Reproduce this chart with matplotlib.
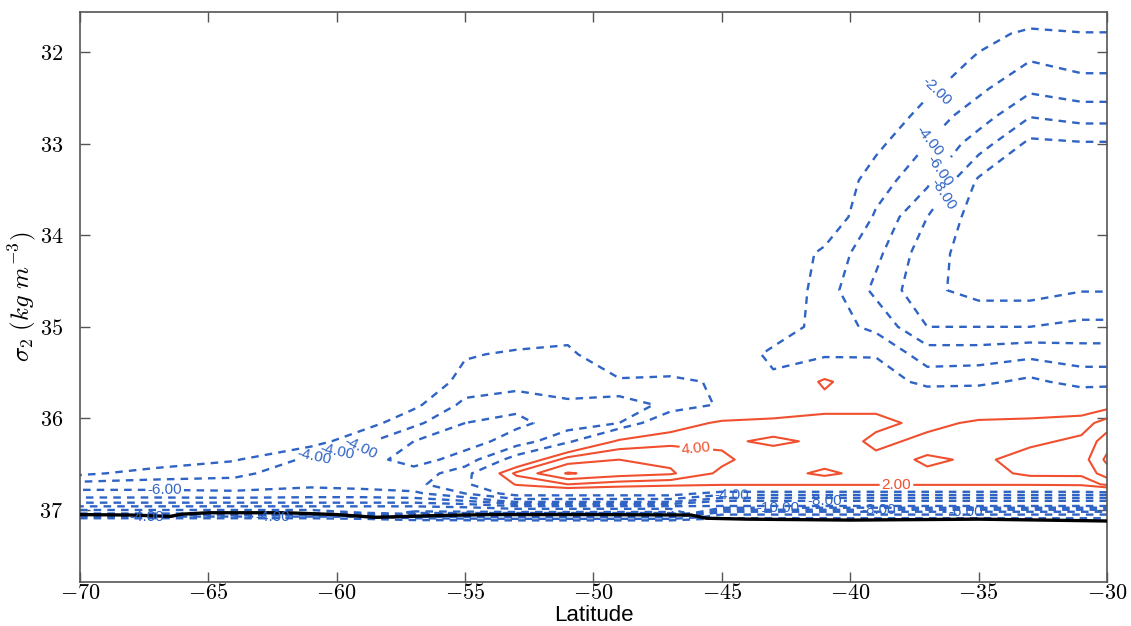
import numpy as np
import matplotlib
matplotlib.use("Agg")
import matplotlib.pyplot as plt
from matplotlib.ticker import FuncFormatter

plt.rcParams['mathtext.fontset'] = 'cm'
plt.rcParams['font.family'] = ['Liberation Sans', 'DejaVu Sans']

# ---------------- data ----------------
lat = [-70, -67, -64, -61, -59, -57, -55, -53, -51, -49, -47, -45, -43, -41, -39, -37, -35, -33, -31, -30]
sigma2 = [31.6, 31.8, 32.1, 32.4, 32.7, 33.0, 33.4, 33.8, 34.2, 34.6, 35.0, 35.3, 35.6, 35.85,
          36.05, 36.25, 36.45, 36.6, 36.72, 36.82, 36.9, 36.97, 37.03, 37.08, 37.13, 37.2]

# transport field, one list per latitude column (top -> bottom in sigma2)
col_m70 = [0]*17 + [-1.5, -4.8, -6.8, -9, -12.5, -11.5, -2.5, 0, 0]
col_m67 = [0]*16 + [-0.5, -3, -4.8, -6.8, -9, -12.5, -11.5, -2.5, 0, 0]
col_m64 = [0]*16 + [-1.8, -3.6, -4.6, -6.6, -9, -12.5, -11.5, -2.5, 0, 0]
col_m61 = [0]*15 + [-1, -4.5, -5, -5.5, -7, -9, -12.5, -11.5, -2.5, 0, 0]
col_m59 = [0]*14 + [-1, -3.5, -5, -4.5, -5, -7, -9, -12.5, -12, -3, 0, 0]
col_m57 = [0]*13 + [-1.5, -3.5, -6, -7, -5, -4.5, -6.5, -9, -12.5, -14.5, -5, 0, 0]
col_m55 = [0]*11 + [-1.8, -2.8, -4.5, -6, -7, -5, -3, -2.5, -4, -8, -12, -14.5, -5.5, 0, 0]
col_m53 = [0]*10 + [-0.5, -2.3, -3, -5.5, -6.5, -5, -1, 4.5, 2.2, -1, -5, -11, -14.5, -6, 0, 0]
col_m51 = [0]*10 + [-1, -2.5, -2.5, -4.5, -5, -2.5, 5, 8.2, 4, -1, -5, -11, -14.5, -6, 0, 0]
col_m49 = [0]*12 + [-2.3, -5, -4, 2.5, 6, 7, 3, -1, -5, -11, -14.5, -6, 0, 0]
col_m47 = [0]*12 + [-2.5, -3.5, 0.5, 3.5, 5.5, 6.3, 2.5, -1, -5, -11, -14.5, -6, 0, 0]
col_m45 = [0]*12 + [-1.7, -1.7, 2.5, 3.5, 4.5, 3.5, 2.3, -3, -8, -10.5, -5, -2.5, 0, 0]
col_m43 = [0]*10 + [-0.5, -2.6, -1.5, 0.5, 2.5, 4.5, 2.5, 3, 2.3, -3, -8, -10.5, -5, -2.5, 0, 0]
col_m41 = [0]*8 + [-2.5, -3, -3, -2.5, 2.5, 1, 3, 3.5, 3, 4.5, 2.3, -3, -8, -10.5, -5, -2.5, 0, 0]
col_m39 = [0]*5 + [-1.5, -3, -4.3, -5.5, -6.5, -4.5, -2.2, -0.5, 1.5, 2.5, 1.5, 2.5, 3, 2.3,
                   -3, -8, -10.5, -5, -2.5, 0, 0]
col_m37 = [0]*3 + [-1.5, -3, -4, -5.5, -8, -9.2, -9.5, -8, -5, -2.8, 1, 1.5, 2.5, 4.5, 3.5, 2.3,
                   -3, -8, -10.5, -5, -2.5, 0, 0]
col_m35 = [0, -1, -2.5, -3.6, -5, -7, -10.3, -11, -11, -10.8, -8, -5, -2.5, 0.5, 2.3, 3, 3.5, 3, 2.3,
           -3, -8, -10.5, -5, -2.5, 0, 0]
col_m33 = [-0.5, -2.6, -4, -5.6, -7.9, -10.5, -11, -11.2, -11, -10.8, -8, -4.5, -1.5, 0.5, 2.5, 3.5,
           5, 4.5, 2.3, -3, -8, -10.5, -5, -2.5, 0, 0]
col_m31 = [-0.8, -2.1, -3.3, -4.9, -7.2, -10.2, -11, -11.2, -11, -10.1, -7.5, -5, -2.8, 0.5, 3, 4.5,
           5, 4.5, 2.5, -3, -8, -10.5, -5, -2.5, 0, 0]
col_m30 = [-0.8, -2.1, -3.3, -4.9, -7.2, -10.2, -11, -11.2, -11, -10.1, -7.5, -5, -2.8, 1, 5, 7,
           8.5, 7, 4.5, -3, -8, -10.5, -5, -2.5, 0, 0]

neg_levels = [-16, -14, -12, -10, -8, -6, -4, -2]
pos_levels = [2, 4, 6, 8]

# bottom density (thick black line)
bottom_lat = [-70, -68, -66.5, -66, -65, -62, -60, -58.5, -56, -54, -50, -46.2, -45.6, -44, -40, -35, -30]
bottom_sig = [37.05, 37.055, 37.07, 37.045, 37.03, 37.03, 37.05, 37.08, 37.06, 37.05, 37.05, 37.055,
              37.09, 37.10, 37.11, 37.10, 37.12]

neg_label_pos = [(-67.4, 37.08), (-66.7, 36.76), (-62.5, 37.07), (-60.9, 36.40), (-60.0, 36.33),
                 (-59.1, 36.27), (-44.6, 36.85), (-41.0, 36.89), (-42.8, 36.98), (-38.9, 37.0),
                 (-35.5, 37.02), (-36.7, 32.4), (-36.8, 33.0), (-36.3, 33.34), (-36.1, 33.6)]
pos_label_pos = [(-46.0, 36.34), (-38.2, 36.62)]

# ---------------- figure ----------------
cols = [col_m70, col_m67, col_m64, col_m61, col_m59, col_m57, col_m55, col_m53, col_m51, col_m49,
        col_m47, col_m45, col_m43, col_m41, col_m39, col_m37, col_m35, col_m33, col_m31, col_m30]
Z = np.array(cols, dtype=float).T
X, Y = np.meshgrid(lat, sigma2)

blue = '#2f63c4'
red = '#f0502f'

fig = plt.figure(figsize=(11.31, 6.26), dpi=100)
ax = fig.add_axes([0.0707, 0.0703, 0.9081, 0.9105])

cn = ax.contour(X, Y, Z, levels=neg_levels, colors=blue, linewidths=1.7,
                linestyles=[(0, (3.2, 2.6))])
cp = ax.contour(X, Y, Z, levels=pos_levels, colors=red, linewidths=1.5, linestyles='solid')
ax.plot(bottom_lat, bottom_sig, color='black', lw=2.4, zorder=3)

ax.clabel(cn, fmt='%.2f', fontsize=11, manual=neg_label_pos, inline=True, inline_spacing=2)
ax.clabel(cp, fmt='%.2f', fontsize=11, manual=pos_label_pos, inline=True, inline_spacing=2)

ax.set_xlim(-70, -30)
ax.set_ylim(37.786, 31.563)
ax.set_xticks(range(-70, -29, 5))
ax.set_yticks([32, 33, 34, 35, 36, 37])
fmt = FuncFormatter(lambda v, p: r'$%d$' % int(round(v)))
ax.xaxis.set_major_formatter(fmt)
ax.yaxis.set_major_formatter(fmt)
ax.tick_params(direction='in', length=7, width=1, top=True, right=True,
               labelsize=16, colors='#555555', labelcolor='black')
ax.tick_params(axis='x', pad=1)
ax.tick_params(axis='y', pad=12)
for s in ax.spines.values():
    s.set_color('#555555')
    s.set_linewidth(1.2)

ax.set_xlabel('Latitude', fontsize=16, va='baseline')
ax.xaxis.set_label_coords(0.5, -0.069)
ax.set_ylabel(r'$\sigma_2\ (kg\ m^{-3})$', fontsize=18)
ax.yaxis.set_label_coords(-0.041, 0.5)

fig.savefig('out.png', dpi=100)
